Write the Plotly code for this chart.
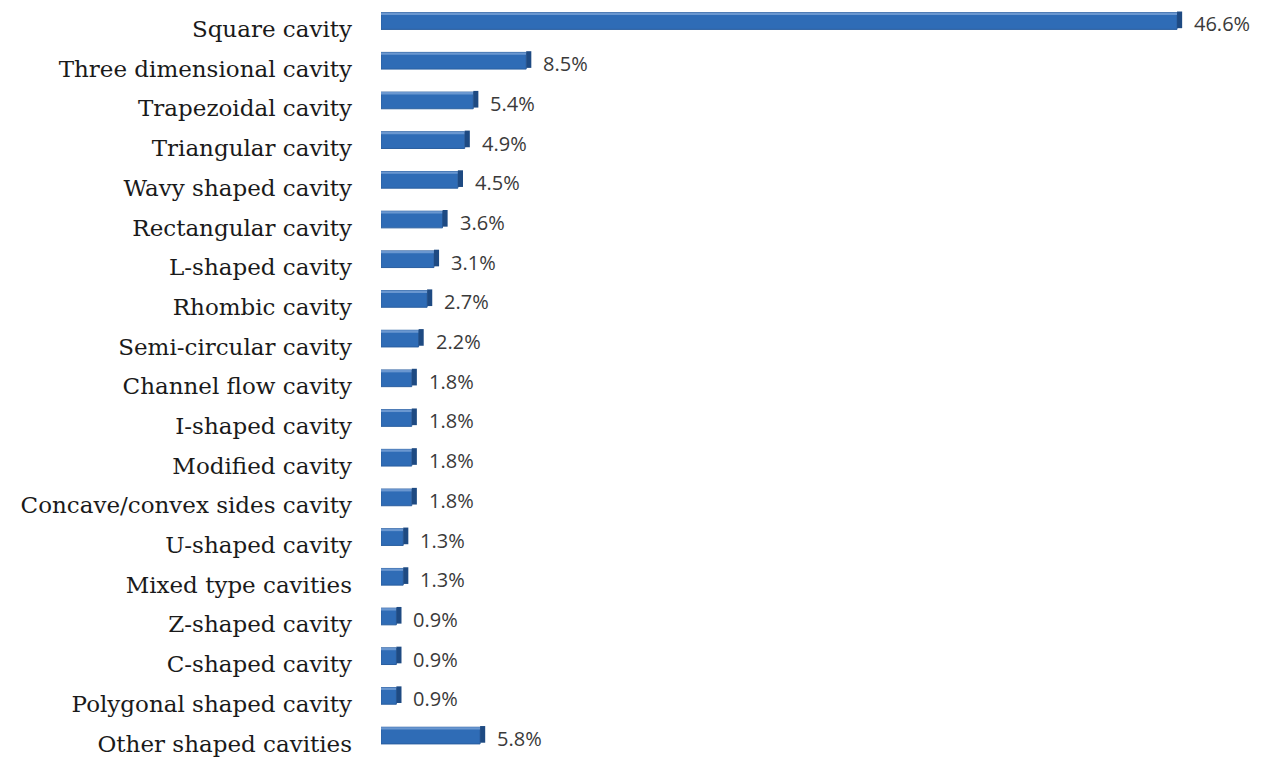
import plotly.graph_objects as go

categories = ["Square cavity", "Three dimensional cavity", "Trapezoidal cavity", "Triangular cavity",
              "Wavy shaped cavity", "Rectangular cavity", "L-shaped cavity", "Rhombic cavity",
              "Semi-circular cavity", "Channel flow cavity", "I-shaped cavity", "Modified cavity",
              "Concave/convex sides cavity", "U-shaped cavity", "Mixed type cavities", "Z-shaped cavity",
              "C-shaped cavity", "Polygonal shaped cavity", "Other shaped cavities"]
values = [46.6, 8.5, 5.4, 4.9, 4.5, 3.6, 3.1, 2.7, 2.2, 1.8, 1.8, 1.8, 1.8, 1.3, 1.3, 0.9, 0.9, 0.9, 5.8]
labels = [f"{v}%" for v in values]

DEPTH = 0.3   # visual depth of the 3D side face, in axis units
BW = 0.42     # bar thickness (category units)
OFF = -0.41   # bars sit slightly above the label baseline

fig = go.Figure()
# front face
fig.add_trace(go.Bar(
    y=categories, x=values, orientation="h", width=BW, offset=OFF,
    marker=dict(color="#2F6CB6", line=dict(color="#2A5E9F", width=1)),
    hoverinfo="skip",
))
# top highlight strip
fig.add_trace(go.Bar(
    y=categories, x=values, orientation="h", width=0.06, offset=OFF,
    marker=dict(color="#6A97D0", line=dict(width=0)),
    hoverinfo="skip",
))
# dark right side face
fig.add_trace(go.Bar(
    y=categories, x=[DEPTH] * len(values), base=values, orientation="h", width=BW,
    offset=OFF - 0.03,
    marker=dict(color="#1E4A82", line=dict(width=0)),
    hoverinfo="skip",
))
for c, v, t in zip(categories, values, labels):
    fig.add_annotation(x=v, y=c, text=t, xanchor="left", xshift=15, yshift=5, showarrow=False,
                       font=dict(family="Open Sans", size=20, color="#3a3a3a"))

fig.update_layout(
    barmode="overlay", showlegend=False,
    width=1265, height=759,
    margin=dict(l=381, r=0, t=0, b=0),
    paper_bgcolor="white", plot_bgcolor="white",
    xaxis=dict(range=[0, 51.75], visible=False),
    yaxis=dict(autorange=False, range=[18.39, -0.73], categoryorder="array", categoryarray=categories,
               tickfont=dict(family="DejaVu Serif", size=23, color="#1a1a1a"),
               showline=False, showgrid=False, ticks="", ticklabelstandoff=28),
)
fig.write_html("out.html")
